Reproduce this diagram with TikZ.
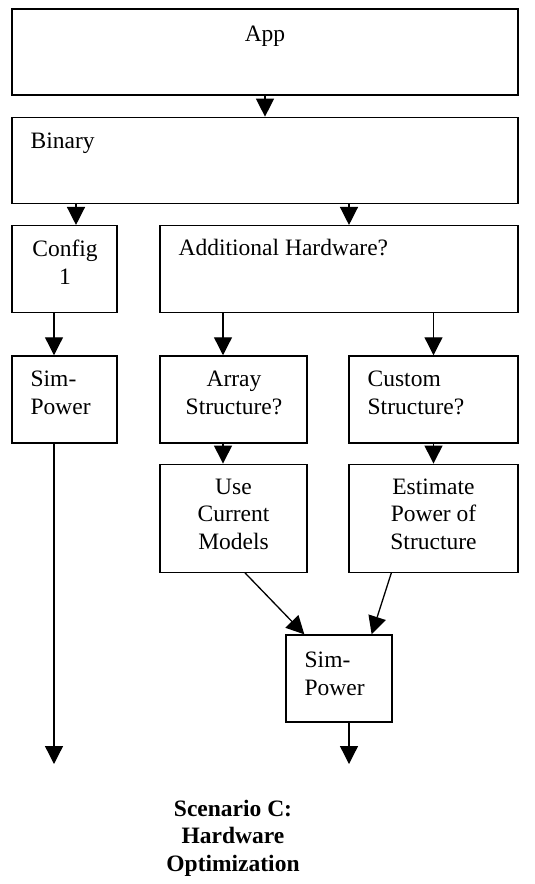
\documentclass[tikz,border=0pt]{standalone}
\usepackage{fontspec}
\setmainfont{Liberation Serif}
\usetikzlibrary{arrows.meta,positioning}

\begin{document}
\begin{tikzpicture}[x=1pt,y=-1pt,->,>={Triangle[width=18pt,length=18pt]},line width=1.3pt]
        \tikzstyle{box}=[draw=black,rectangle,inner sep=0pt,minimum height=87pt]
        \tikzstyle{txt}=[inner sep=0pt,font=\fontsize{23.5}{27.5}\selectfont]
        \useasboundingbox (0,0) rectangle (535,884);
        % boxes
        \node[box,minimum width=506pt,minimum height=86pt] (app) at (265,52) {};
        \node[box,minimum width=506pt,minimum height=86pt] (bin) [below=21pt of app] {};
        \node[box,minimum width=105pt] (cfg) [below right=21pt and 0pt of bin.south west] {};
        \node[box,minimum width=358pt] (addhw) [below left=21pt and 0pt of bin.south east] {};
        \node[box,minimum width=105pt] (sim1) [below=42pt of cfg] {};
        \node[box,minimum width=147pt] (arr) [below right=42pt and 0pt of addhw.south west] {};
        \node[box,minimum width=169pt] (cust) [below left=42pt and 0pt of addhw.south east] {};
        \node[box,minimum width=147pt,minimum height=108pt] (use) [below=20pt of arr] {};
        \node[box,minimum width=169pt,minimum height=108pt] (est) [below=20pt of cust] {};
        \node[box,minimum width=106pt] (sim2) at (339,678.5) {};
        % texts
        \node[txt,anchor=base] (appT) at (265,41) {App};
        \node[txt,anchor=base west] (binT) at (30,148) {Binary};
        \node[txt,anchor=base,align=center] (cfgT) at (65,284) {Config\\1};
        \node[txt,anchor=base west] (addhwT) at (178,255) {Additional Hardware?};
        \node[txt,anchor=base west,align=left] (sim1T) at (30,414) {Sim-\\Power};
        \node[txt,anchor=base,align=center] (arrT) at (234,414) {Array\\Structure?};
        \node[txt,anchor=base west,align=left] (custT) at (367,414) {Custom\\Structure?};
        \node[txt,anchor=base,align=center] (useT) at (233.5,549) {Use\\Current\\Models};
        \node[txt,anchor=base,align=center] (estT) at (433.5,549) {Estimate\\Power of\\Structure};
        \node[txt,anchor=base west,align=left] (sim2T) at (304,695) {Sim-\\Power};
        \node[txt,anchor=base,align=center,font=\fontsize{23.5}{27.5}\selectfont\bfseries] (cap) at (233,871) {Scenario C:\\Hardware\\Optimization};
        % arrow ends
        \coordinate (c1) at ([xshift=11.5pt]cfg.north);
        \coordinate (c2) at ([xshift=10pt]addhw.north);
        \coordinate (c3) at ([xshift=-10.5pt]sim1.north);
        \coordinate (c4) at ([xshift=-10.5pt]arr.north);
        \coordinate (c5) at ([xshift=-10.5pt]use.north);
        \coordinate (end1) at (54,764);
        \coordinate (end2) at (349,764);
    \path
        (app) edge (bin)
        (bin.south -| c1) edge (c1)
        (bin.south -| c2) edge (c2)
        (cfg.south -| c3) edge (c3)
        (addhw.south -| c4) edge (c4)
        (addhw.south -| cust.north) edge (cust.north)
        (arr.south -| c5) edge (c5)
        (cust) edge (est)
        ([xshift=11.5pt]use.south) edge ([xshift=19pt]sim2.north west)
        ([xshift=43pt]est.south west) edge ([xshift=-21pt]sim2.north east)
        (sim1.south -| end1) edge (end1)
        (sim2.south -| end2) edge (end2);
    \end{tikzpicture}
\end{document}
